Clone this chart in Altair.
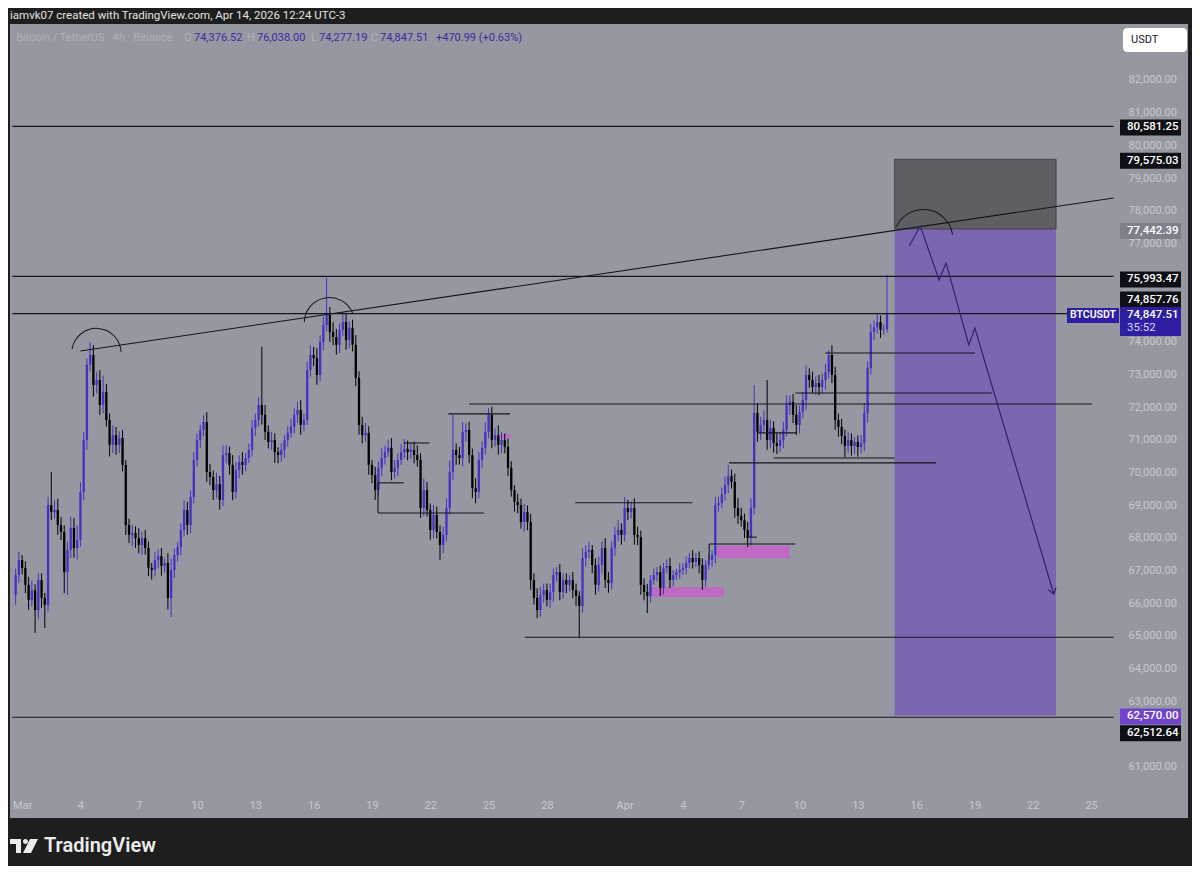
import altair as alt
import pandas as pd

FONT = "Roboto"
BLUE = "#4332c4"
BG = "#1e1e1e"
PANEL = "#9598a1"
AXIS_TXT = "#c6c9d0"

MAR1 = int(pd.Timestamp("2026-03-01", tz="UTC").value // 10**6)
DAY = 86400000


def T(d):
    return int(round(MAR1 + d * DAY))


# ---------------- candle data (4h BTCUSDT) ----------------
first_open = 66250
closes = [
    66860, 67320,
    67080, 66560, 66100, 66400, 65790, 66710,
    66160, 65950, 69000, 68790, 68850, 68390,
    68180, 66950, 67630, 68300, 67690, 67930,
    69400, 70990, 73290, 73590, 72670, 72830,
    72060, 72460, 71600, 70840, 71140, 70840,
    71050, 70230, 68390, 68090, 68150, 67990,
    67780, 67990, 67690, 67080, 67020, 67320,
    67440, 67140, 67230, 66160, 67020, 67470,
    67720, 68240, 68850, 68390, 69250, 70380,
    70990, 71300, 71540, 70010, 69860, 69460,
    69640, 69160, 70530, 70590, 70230, 69400,
    70070, 70320, 70230, 70440, 70690, 71360,
    71600, 72060, 71760, 71240, 70930, 70990,
    70620, 70530, 70690, 70990, 71210, 71390,
    71760, 71910, 71450, 71600, 73130, 73590,
    73500, 72980, 73990, 74510, 74810, 74290,
    74140, 73900, 74360, 74600, 74050, 74420,
    73900, 72890, 71450, 71140, 71210, 70230,
    69920, 69460, 70140, 70440, 70620, 70750,
    70010, 70140, 70380, 70620, 70720, 70620,
    70690, 70530, 70380, 68910, 69460, 68850,
    68240, 68700, 68180, 67780, 68090, 68910,
    70010, 70690, 70530, 70440, 71240, 71300,
    70530, 69520, 69400, 70380, 70750, 71240,
    71760, 70990, 71140, 70840, 70990, 70780,
    70140, 69460, 69100, 69000, 68480, 68790,
    68480, 66710, 66160, 65790, 66250, 66400,
    66100, 66340, 66860, 66950, 66340, 66710,
    66560, 66710, 66400, 66220, 65910, 67380,
    67570, 67630, 67170, 66560, 67170, 67690,
    66710, 66620, 67690, 68090, 68240, 68090,
    68910, 68790, 68910, 68090, 68020, 66560,
    66340, 66220, 66710, 66860, 66950, 66470,
    67080, 67140, 66710, 66860, 66950, 67020,
    67080, 67230, 67380, 67260, 67380, 67170,
    66710, 67170, 67320, 67470, 69000, 69060,
    69340, 69620, 69890, 69710, 68910, 68670,
    68540, 68240, 68020, 68910, 71820, 71240,
    71450, 71600, 70990, 71360, 70900, 70810,
    70990, 71300, 72060, 72150, 71760, 71450,
    71850, 72210, 72980, 72830, 72610, 72730,
    72610, 72830, 73070, 73590, 72980, 71600,
    71390, 71110, 70810, 70990, 70810, 70930,
    70780, 70900, 71820, 73190, 74290, 74440,
    74600, 74360, 74376.52, 74847.51,
]
wick_up = [
    200, 250,
    150, 200, 250, 300, 180, 220,
    200, 150, 250, 1010, 300, 350,
    250, 200, 250, 350, 300, 450,
    300, 250, 200, 400, 300, 250,
    300, 500, 250, 200, 300, 250,
    200, 250, 150, 200, 250, 200,
    300, 200, 250, 200, 150, 250,
    200, 250, 150, 300, 350, 200,
    150, 200, 300, 250, 200, 250,
    200, 150, 220, 300, 250, 200,
    350, 250, 300, 250, 200, 300,
    250, 200, 300, 150, 200, 250,
    200, 250, 1780, 300, 200, 250,
    200, 150, 200, 150, 200, 250,
    200, 250, 300, 200, 250, 300,
    250, 300, 200, 250, 1140, 250,
    300, 250, 200, 300, 250, 200,
    250, 300, 200, 250, 300, 200,
    150, 250, 200, 300, 200, 250,
    300, 250, 200, 250, 300, 250,
    200, 250, 300, 200, 350, 250,
    200, 300, 250, 200, 250, 300,
    350, 1070, 200, 250, 300, 200,
    250, 200, 300, 250, 200, 300,
    210, 250, 200, 300, 250, 200,
    250, 200, 150, 250, 200, 250,
    200, 250, 200, 300, 250, 200,
    200, 250, 200, 150, 250, 200,
    200, 150, 250, 200, 150, 300,
    200, 250, 150, 200, 250, 200,
    300, 250, 200, 250, 300, 200,
    340, 250, 200, 300, 250, 200,
    200, 250, 150, 200, 150, 200,
    150, 200, 250, 150, 100, 200,
    150, 200, 150, 250, 150, 200,
    200, 150, 200, 150, 250, 200,
    200, 250, 340, 200, 250, 300,
    250, 200, 250, 300, 850, 300,
    250, 300, 1230, 250, 200, 300,
    200, 250, 300, 200, 250, 300,
    200, 250, 300, 200, 250, 200,
    250, 200, 250, 150, 300, 250,
    200, 250, 200, 250, 200, 150,
    200, 250, 300, 200, 250, 200,
    250, 200, 150, 1190.49,
]
wick_dn = [
    300, 250,
    200, 250, 300, 200, 700, 250,
    300, 710, 200, 250, 200, 300,
    250, 640, 700, 250, 300, 350,
    200, 250, 300, 200, 350, 250,
    300, 250, 200, 350, 250, 300,
    250, 200, 300, 250, 350, 300,
    250, 300, 200, 250, 300, 200,
    250, 300, 200, 350, 580, 250,
    200, 250, 200, 300, 250, 200,
    200, 250, 200, 300, 250, 300,
    250, 300, 200, 250, 300, 250,
    200, 250, 300, 200, 150, 200,
    250, 200, 300, 250, 200, 250,
    330, 250, 200, 250, 200, 150,
    200, 250, 300, 200, 150, 200,
    250, 300, 200, 250, 200, 300,
    250, 300, 250, 200, 300, 250,
    200, 250, 300, 250, 200, 300,
    250, 300, 200, 250, 200, 150,
    250, 200, 250, 150, 200, 250,
    200, 250, 200, 300, 250, 200,
    300, 250, 200, 460, 250, 200,
    200, 250, 300, 200, 250, 300,
    250, 300, 350, 200, 250, 200,
    200, 250, 200, 300, 250, 200,
    250, 200, 300, 250, 200, 300,
    250, 300, 200, 250, 200, 250,
    200, 250, 300, 200, 250, 200,
    250, 200, 250, 300, 970, 200,
    250, 200, 250, 300, 200, 250,
    250, 300, 200, 250, 200, 300,
    200, 250, 200, 300, 250, 300,
    250, 520, 200, 150, 200, 250,
    200, 150, 250, 200, 150, 200,
    150, 200, 150, 200, 150, 250,
    300, 200, 150, 200, 250, 200,
    150, 200, 250, 200, 300, 250,
    200, 250, 300, 250, 200, 300,
    250, 200, 300, 250, 300, 250,
    200, 250, 200, 300, 250, 300,
    250, 200, 300, 250, 200, 250,
    250, 200, 300, 200, 250, 300,
    300, 250, 350, 200, 300, 250,
    300, 200, 250, 300, 200, 250,
    200, 250, 150, 99.33,
]
assert len(closes) == len(wick_up) == len(wick_dn) == 270

n = len(closes)
opens = [first_open] + closes[:-1]
candles = pd.DataFrame({
    "t": [T(-1 / 3 + i / 6) for i in range(n)],
    "open": opens,
    "close": closes,
    "high": [max(o, c) + u for o, c, u in zip(opens, closes, wick_up)],
    "low": [min(o, c) - d for o, c, d in zip(opens, closes, wick_dn)],
    "dir": ["up" if c >= o else "down" for o, c in zip(opens, closes)],
})

# ---------------- drawings ----------------
END = 56.16
full_line_prices = [80581.25, 75993.47, 74857.76, 62512.64]
seg_d1 = [25.86, 23.00, 21.93, 19.63, 18.31, 18.31, 28.46, 35.35, 36.37, 38.66, 37.80, 39.79, 41.32, 37.24]
seg_d2 = [END, 55.04, 25.10, 20.96, 19.63, 23.77, 34.48, 39.78, 47.03, 44.89, 39.84, 49.90, 49.02, 37.80]
seg_p = [64960, 72090, 71790, 70900, 69680, 68760, 69070, 67810, 70290, 70440, 71210, 72430, 73650, 68020]
vseg_d = [18.31, 35.35]
vseg_p1 = [68760, 67320]
vseg_p2 = [69680, 67810]

pink_d1 = [32.37, 35.76, 24.53]
pink_d2 = [36.11, 39.50, 25.14]
pink_p1 = [66199, 67373, 71040]
pink_p2 = [66487, 67758, 71160]

trend_d = [3.00, END]
trend_p = [73712, 78391]

zig_d = [45.65, 46.21, 47.18, 47.54, 48.71, 49.02, 53.08]
zig_p = [76923, 77535, 75884, 76404, 73896, 74416, 66282]

pos_d = [44.89, 53.20]
stop_p = [77442.39, 79575.03]
target_p = [62570.00, 77442.39]

arc_d = [3.82, 15.81, 46.37]
arc_p = [73650, 74580, 77140]
arc_r = [25.2, 25.6, 30.0]
arc_t1 = [4.873, 4.733, 5.133]
arc_t2 = [7.813, 7.473, 7.713]

tick_days = [0, 3, 6, 9, 12, 15, 18, 21, 24, 27, 31, 34, 37, 40, 43, 46, 49, 52, 55]
price_ticks = [82000, 81000, 80000, 79000, 78000, 77000, 74000, 73000, 72000, 71000,
               70000, 69000, 68000, 67000, 66000, 65000, 64000, 63000, 61000]

price_labels = ["80,581.25", "79,575.03", "77,442.39", "75,993.47", "74,857.76", "62,570.00", "62,512.64"]
price_label_values = [80581.25, 79575.03, 77442.39, 75993.47, 74857.76, 62570.00, 62512.64]
price_label_fill = ["#0f1016", "#0f1016", "#7d8089", "#0f1016", "#0f1016", "#7043cc", "#0f1016"]
price_label_shift = [1, 1.5, 2, 3, -14, 1, 16]

legend_names = ["O", "H", "L", "C"]
legend_values = ["74,376.52", "76,038.00", "74,277.19", "74,847.51"]
change_text = "+470.99 (+0.63%)"

# ---------------- scales / encodings ----------------
xs = alt.Scale(type="utc", domain=[T(-0.367), T(59.73)], nice=False)
ys = alt.Scale(domain=[59432, 83712], nice=False, zero=False)
xaxis = alt.Axis(
    values=[T(d) for d in tick_days],
    labelExpr="utcdate(datum.value) == 1 ? utcFormat(datum.value, '%b') : utcFormat(datum.value, '%-d')",
    orient="bottom", offset=-20, domain=False, ticks=False, grid=False,
    labelColor=AXIS_TXT, labelFontSize=11, labelFont=FONT, labelPadding=1,
    labelFlush=False, labelOverlap=False, title=None,
)
yaxis = alt.Axis(
    values=price_ticks, format=",.2f", orient="right", offset=-64,
    domain=False, ticks=False, grid=False, labelPadding=4,
    labelColor=AXIS_TXT, labelFontSize=11, labelFont=FONT, labelOverlap=False, title=None,
)


def X(f):
    return alt.X(f, type="temporal", scale=xs, axis=xaxis)


def Y(f):
    return alt.Y(f, type="quantitative", scale=ys, axis=yaxis)


layers = []

# position tool boxes
pos_df = pd.DataFrame({
    "t1": [T(pos_d[0])] * 2, "t2": [T(pos_d[1])] * 2,
    "p1": [stop_p[0], target_p[0]], "p2": [stop_p[1], target_p[1]],
})
layers.append(alt.Chart(pos_df.iloc[[1]]).mark_rect(color="#7c66b0").encode(
    x=X("t1"), x2=alt.X2("t2"), y=Y("p1"), y2=alt.Y2("p2")))
layers.append(alt.Chart(pos_df.iloc[[0]]).mark_rect(color="#5e5f64", stroke="#3a3a3e", strokeWidth=0.8).encode(
    x=X("t1"), x2=alt.X2("t2"), y=Y("p1"), y2=alt.Y2("p2")))

# pink zones
pink_df = pd.DataFrame({"t1": [T(d) for d in pink_d1], "t2": [T(d) for d in pink_d2],
                        "p1": pink_p1, "p2": pink_p2})
layers.append(alt.Chart(pink_df).mark_rect(color="#c464c8", opacity=0.9).encode(
    x=X("t1"), x2=alt.X2("t2"), y=Y("p1"), y2=alt.Y2("p2")))

cscale = alt.Scale(domain=["up", "down"], range=[BLUE, "#000000"])
layers.append(alt.Chart(candles).mark_rule(strokeWidth=1).encode(
    x=X("t"), y=Y("low"), y2=alt.Y2("high"),
    color=alt.Color("dir:N", scale=cscale, legend=None)))
layers.append(alt.Chart(candles).mark_bar(width=2.3).encode(
    x=X("t"), y=Y("open"), y2=alt.Y2("close"),
    color=alt.Color("dir:N", scale=cscale, legend=None)))

# horizontal lines
full_df = pd.DataFrame({"t1": [T(-0.5)] * len(full_line_prices), "t2": [T(END)] * len(full_line_prices),
                        "p": full_line_prices})
layers.append(alt.Chart(full_df).mark_rule(color="#15151c", strokeWidth=1.2, clip=True).encode(
    x=X("t1"), x2=alt.X2("t2"), y=Y("p")))
seg_df = pd.DataFrame({"t1": [T(d) for d in seg_d1], "t2": [T(d) for d in seg_d2], "p": seg_p})
layers.append(alt.Chart(seg_df).mark_rule(color="#15151c", strokeWidth=1.1).encode(
    x=X("t1"), x2=alt.X2("t2"), y=Y("p")))
vseg_df = pd.DataFrame({"t": [T(d) for d in vseg_d], "p1": vseg_p1, "p2": vseg_p2})
layers.append(alt.Chart(vseg_df).mark_rule(color="#15151c", strokeWidth=1.1).encode(
    x=X("t"), y=Y("p1"), y2=alt.Y2("p2")))

# trendline
trend_df = pd.DataFrame({"t1": [T(trend_d[0])], "t2": [T(trend_d[1])], "p1": [trend_p[0]], "p2": [trend_p[1]]})
layers.append(alt.Chart(trend_df).mark_rule(color="#15151c", strokeWidth=1.1).encode(
    x=X("t1"), x2=alt.X2("t2"), y=Y("p1"), y2=alt.Y2("p2")))

# projected zigzag path
ZZ = "#2f2474"
zig_df = pd.DataFrame({"t": [T(d) for d in zig_d], "p": zig_p, "k": list(range(len(zig_d)))})
layers.append(alt.Chart(zig_df).mark_line(color=ZZ, strokeWidth=1.2).encode(
    x=X("t"), y=Y("p"), order=alt.Order("k:Q")))
layers.append(alt.Chart(zig_df.iloc[[-1]]).mark_point(
    shape="M-1,-1.4L0,0L1,-1.4", size=64, filled=False, color=ZZ, strokeWidth=1.2,
    angle=343, opacity=1).encode(x=X("t"), y=Y("p")))

# hand drawn arcs
for d, p, r, a1, a2 in zip(arc_d, arc_p, arc_r, arc_t1, arc_t2):
    adf = pd.DataFrame({"t": [T(d)], "p": [p]})
    layers.append(alt.Chart(adf).mark_arc(
        radius=r, radius2=r - 1.0, theta=a1, theta2=a2, color="#161616").encode(
        x=X("t"), y=Y("p")))

# price labels on the scale
BOX16 = "M-1,-0.2623H1V0.2623H-1Z"
for txt_, val, fill, dy in zip(price_labels, price_label_values, price_label_fill, price_label_shift):
    ldf = pd.DataFrame({"p": [val], "label": [txt_]})
    layers.append(alt.Chart(ldf).mark_point(
        shape=BOX16, size=3721, filled=True, color=fill, opacity=1, strokeWidth=0, yOffset=dy).encode(
        x=alt.value(1140.5), y=Y("p")))
    layers.append(alt.Chart(ldf).mark_text(
        align="left", baseline="middle", color="#ffffff", fontSize=11.5, font=FONT,
        fontWeight=500, yOffset=dy).encode(x=alt.value(1117), y=Y("p"), text="label:N"))

# current price label (two lines) + BTCUSDT tag
cur_df = pd.DataFrame({"p": [74847.51], "label": ["74,847.51"], "timer": ["35:52"], "tag": ["BTCUSDT"]})
CUR = "#2e1fa2"
layers.append(alt.Chart(cur_df).mark_point(
    shape="M-1,-0.4754H1V0.4754H-1Z", size=3721, filled=True, color=CUR, opacity=1,
    strokeWidth=0, yOffset=7.5).encode(x=alt.value(1140.5), y=Y("p")))
layers.append(alt.Chart(cur_df).mark_text(
    align="left", baseline="middle", color="#ffffff", fontSize=11.5, font=FONT, fontWeight=500,
    yOffset=1).encode(x=alt.value(1117), y=Y("p"), text="label:N"))
layers.append(alt.Chart(cur_df).mark_text(
    align="left", baseline="middle", color="#d8d4ff", fontSize=11.5, font=FONT,
    yOffset=14).encode(x=alt.value(1117), y=Y("p"), text="timer:N"))
layers.append(alt.Chart(cur_df).mark_point(
    shape="M-1,-0.2885H1V0.2885H-1Z", size=2704, filled=True, color=CUR, opacity=1,
    strokeWidth=0, yOffset=1.5).encode(x=alt.value(1083), y=Y("p")))
layers.append(alt.Chart(cur_df).mark_text(
    align="center", baseline="middle", color="#ffffff", fontSize=10.5, font=FONT, fontWeight=600,
    yOffset=1.5).encode(x=alt.value(1083), y=Y("p"), text="tag:N"))

# ---------------- header / legend / footer texts ----------------
one = pd.DataFrame({"k": [0]})


def txt(s, x, y, color, size=11, weight="normal", align="left"):
    return alt.Chart(one).mark_text(
        text=s, align=align, baseline="middle", color=color, fontSize=size,
        font=FONT, fontWeight=weight).encode(x=alt.value(x), y=alt.value(y))


layers.append(txt("iamvk07 created with TradingView.com, Apr 14, 2026 12:24 UTC-3", 0, -8.5, "#e4e4e4", 11.5))
layers.append(txt("Bitcoin / TetherUS · 4h · Binance", 6, 14, "#aeb1b9", 11))
name_x = [174, 237, 301, 361]
val_x = [184, 247, 309, 370]
for nm, vv, nx, vx in zip(legend_names, legend_values, name_x, val_x):
    layers.append(txt(nm, nx, 14, "#aeb1b9", 11))
    layers.append(txt(vv, vx, 14, "#3a2ca0", 11))
layers.append(txt(change_text, 426, 14, "#3a2ca0", 11))

# USDT currency button
layers.append(alt.Chart(one).mark_rect(color="#ffffff", cornerRadius=4).encode(
    x=alt.value(1113), x2=alt.value(1177), y=alt.value(4), y2=alt.value(28)))
layers.append(txt("USDT", 1121, 16, "#131722", 11))

# TradingView footer logo + wordmark
LOGO = ("M-1,-0.5L-0.214,-0.5L-0.214,0.5L-0.571,0.5L-0.571,-0.143L-1,-0.143Z"
        "M-0.072,-0.321a0.179,0.179 0 1,0 0.358,0a0.179,0.179 0 1,0 -0.358,0Z"
        "M0.429,-0.5L1,-0.5L0.5,0.5L-0.071,0.5Z")
layers.append(alt.Chart(one).mark_point(
    shape=LOGO, size=784, filled=True, color="#ececec", opacity=1, strokeWidth=0).encode(
    x=alt.value(14), y=alt.value(822)))
layers.append(txt("TradingView", 34, 822, "#ececec", 20, 600))

chart = alt.layer(*layers).properties(
    width=1178,
    height=794,
    padding={"left": 2, "top": 16, "right": 4, "bottom": 48},
    autosize=alt.AutoSizeParams(type="none"),
    background=BG,
).configure_view(fill=PANEL, stroke=None)

chart.save("out.html", embed_options={"renderer": "svg", "actions": False})
